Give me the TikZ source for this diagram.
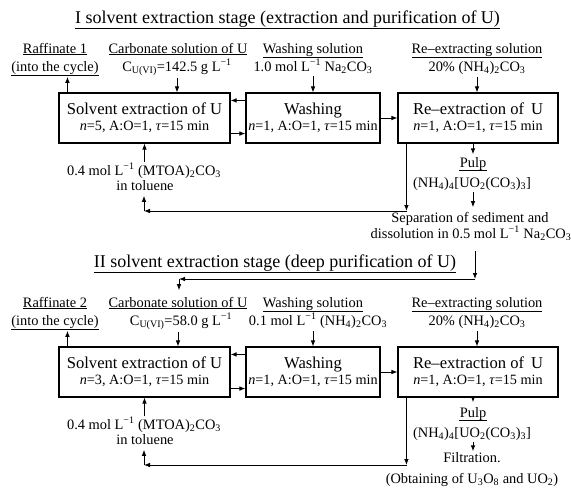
\documentclass[tikz,border=0pt]{standalone}
\usepackage{fontspec}
\setmainfont{Liberation Serif}
\usetikzlibrary{arrows.meta}
\newcommand{\mysb}[1]{\textsubscript{#1}}
\newcommand{\mysp}[1]{\textsuperscript{#1}}
\begin{document}
\begin{tikzpicture}[x=1pt,y=-1pt,
  every node/.style={inner sep=0.5pt},
  ttl/.style={font=\fontsize{18}{20}\selectfont, anchor=base},
  lbl/.style={font=\fontsize{14.4}{16}\selectfont, anchor=base},
  box/.style={draw, line width=1.1pt, inner sep=0pt, align=center, minimum height=50pt, font=\fontsize{14.2}{16}\selectfont},
  arr/.style={line width=0.9pt, -{Latex[length=6pt,width=4.6pt]}},
  uline/.style={line width=0.55pt}]
\useasboundingbox (0,0) rectangle (571,498);
\newcommand{\bt}[1]{{\fontsize{16.6}{16}\selectfont #1}}
% ---------- Stage I ----------
\node[ttl] (t1) at (287.5,23) {\underline{I solvent extraction stage (extraction and purification of U)}};
\node[lbl] (raf1a) at (55,53) {\underline{Raffinate 1}};
\node[lbl] (raf1b) at (55,71) {\underline{(into the cycle)}};
\node[lbl] (cs1a) at (178,53) {\underline{Carbonate solution of U}};
\node[lbl] (cs1b) at (177,71) {C\mysb{U(VI)}=142.5 g L\mysp{−1}};
\node[lbl] (ws1a) at (313,53) {\underline{Washing solution}};
\node[lbl] (ws1b) at (313,71) {1.0 mol L\mysp{−1} Na\mysb{2}CO\mysb{3}};
\node[lbl] (rs1a) at (477,53) {\underline{Re–extracting solution}};
\node[lbl] (rs1b) at (477,71) {20\% (NH\mysb{4})\mysb{2}CO\mysb{3}};
\node[box, minimum width=171pt] (se1) at (144.5,118) {\bt{Solvent extraction of U}\\\textit{n}=5, A:O=1, \textit{τ}=15 min};
\node[box, minimum width=134pt] (wash1) at (313,118) {\bt{Washing}\\\textit{n}=1, A:O=1, \textit{τ}=15 min};
\node[box, minimum width=160pt] (re1) at (478,118) {\bt{Re–extraction of\, U}\\\textit{n}=1, A:O=1, \textit{τ}=15 min};
\coordinate (r1) at ([xshift=9pt]se1.north west);
\draw[arr] (r1) -- (r1 |- raf1b.south);
\draw[arr, shorten <=2pt] (cs1b.south) -- (cs1b.south |- se1.north);
\draw[arr, shorten <=2pt] (ws1b.south) -- (ws1b.south |- wash1.north);
\draw[arr, shorten <=2pt] (rs1b.south) -- (rs1b.south |- re1.north);
\draw[arr] ([yshift=-8pt]wash1.north west) -- ([yshift=-8pt]se1.north east);
\draw[arr] ([yshift=10pt]se1.south east) -- ([yshift=10pt]wash1.south west);
\draw[arr] (wash1.east) -- (re1.west);
\node[lbl] (mt1a) at (144,175) {0.4 mol L\mysp{−1} (MTOA)\mysb{2}CO\mysb{3}};
\node[lbl] (mt1b) at (145,190) {in toluene};
\draw[arr] (mt1a.north -| se1.south) -- (se1.south);
\coordinate (b1) at (407,211);
\coordinate (b2) at (144,211);
\coordinate (r2) at ([xshift=9pt]re1.south west);
\draw[arr] (r2) -- (r2 |- b1);
\draw[arr] (b1) -- (b2);
\draw[arr, shorten >=5pt] (b2) -- (b2 |- mt1b.south);
\node[lbl] (pulp1) at (473,167) {Pulp};
\draw[uline] ([yshift=-3pt]pulp1.base west) -- ([yshift=-3pt]pulp1.base east);
\node[lbl] (cx1) at (472,187) {(NH\mysb{4})\mysb{4}{[}UO\mysb{2}(CO\mysb{3})\mysb{3}{]}};
\node[lbl] (sep1a) at (470,222) {Separation of sediment and};
\node[lbl] (sep1b) at (471,238) {dissolution in 0.5 mol L\mysp{−1} Na\mysb{2}CO\mysb{3}};
\draw[arr, shorten >=2pt] (pulp1.north |- re1.south) -- (pulp1.north);
\draw[arr, shorten <=1pt, shorten >=4pt] (cx1.south -| pulp1.north) -- (sep1a.north -| pulp1.north);
\coordinate (c1) at (475,279);
\coordinate (c2) at (179,279);
\draw[arr, shorten <=10pt] (sep1b.south -| c1) -- (c1);
\draw[arr] (c1) -- (c2);
% ---------- Stage II ----------
\node[ttl] (t2) at (275,267) {\underline{II solvent extraction stage (deep purification of U)}};
\node[lbl] (raf2a) at (55,307) {\underline{Raffinate 2}};
\node[lbl] (raf2b) at (55,325) {\underline{(into the cycle)}};
\node[lbl] (cs2a) at (178,307) {\underline{Carbonate solution of U}};
\node[lbl] (cs2b) at (181,325) {C\mysb{U(VI)}=58.0 g L\mysp{−1}};
\node[lbl] (ws2a) at (313,307) {\underline{Washing solution}};
\node[lbl] (ws2b) at (318,325) {0.1 mol L\mysp{−1} (NH\mysb{4})\mysb{2}CO\mysb{3}};
\node[lbl] (rs2a) at (477,307) {\underline{Re–extracting solution}};
\node[lbl] (rs2b) at (477,325) {20\% (NH\mysb{4})\mysb{2}CO\mysb{3}};
\draw[arr, shorten >=6pt] (c2) -- (c2 |- cs2a.north);
\node[box, minimum width=171pt] (se2) at (144.5,372) {\bt{Solvent extraction of U}\\\textit{n}=3, A:O=1, \textit{τ}=15 min};
\node[box, minimum width=134pt] (wash2) at (313,372) {\bt{Washing}\\\textit{n}=1, A:O=1, \textit{τ}=15 min};
\node[box, minimum width=160pt] (re2) at (478,372) {\bt{Re–extraction of\, U}\\\textit{n}=1, A:O=1, \textit{τ}=15 min};
\coordinate (r3) at ([xshift=9pt]se2.north west);
\draw[arr] (r3) -- (r3 |- raf2b.south);
\draw[arr, shorten <=2pt] (cs2b.south -| cs2a.south) -- (cs2a.south |- se2.north);
\draw[arr, shorten <=2pt] (ws2b.south -| ws2a.south) -- (ws2a.south |- wash2.north);
\draw[arr, shorten <=2pt] (rs2b.south) -- (rs2b.south |- re2.north);
\draw[arr] ([yshift=-8pt]wash2.north west) -- ([yshift=-8pt]se2.north east);
\draw[arr] ([yshift=9pt]se2.south east) -- ([yshift=9pt]wash2.south west);
\draw[arr] (wash2.east) -- (re2.west);
\node[lbl] (mt2a) at (144,429) {0.4 mol L\mysp{−1} (MTOA)\mysb{2}CO\mysb{3}};
\node[lbl] (mt2b) at (145,444) {in toluene};
\draw[arr] (mt2a.north -| se2.south) -- (se2.south);
\coordinate (b3) at (407,465);
\coordinate (b4) at (144,465);
\coordinate (r4) at ([xshift=9pt]re2.south west);
\draw[arr] (r4) -- (r4 |- b3);
\draw[arr] (b3) -- (b4);
\draw[arr, shorten >=5pt] (b4) -- (b4 |- mt2b.south);
\node[lbl] (pulp2) at (473,417) {Pulp};
\draw[uline] ([yshift=-3pt]pulp2.base west) -- ([yshift=-3pt]pulp2.base east);
\node[lbl] (cx2) at (472,437) {(NH\mysb{4})\mysb{4}{[}UO\mysb{2}(CO\mysb{3})\mysb{3}{]}};
\node[lbl] (filt) at (472,462) {Filtration.};
\node[lbl] (obt) at (472,483) {(Obtaining of U\mysb{3}O\mysb{8} and UO\mysb{2})};
\draw[arr, shorten >=4pt] (pulp2.north |- re2.south) -- (pulp2.north);
\draw[arr, shorten <=1pt] (cx2.south -| pulp2.north) -- (filt.north -| pulp2.north);
\end{tikzpicture}
\end{document}
